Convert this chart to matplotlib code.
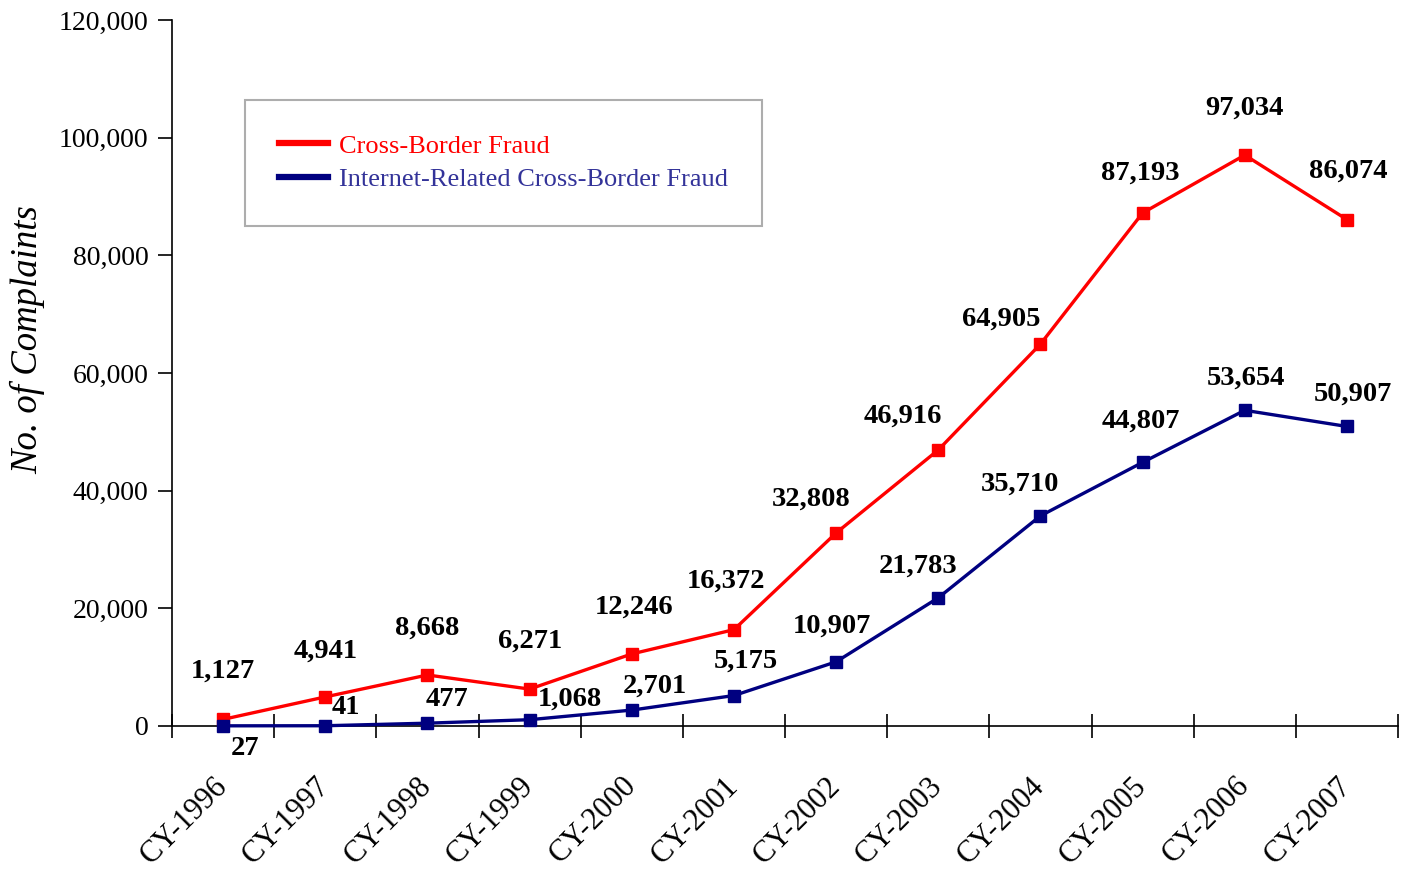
import matplotlib
matplotlib.use("Agg")
import matplotlib.pyplot as plt
from matplotlib.lines import Line2D
from matplotlib.ticker import FuncFormatter, FixedLocator

plt.rcParams['font.family'] = ['Liberation Serif', 'DejaVu Serif']

years = ["CY-1996", "CY-1997", "CY-1998", "CY-1999", "CY-2000", "CY-2001",
         "CY-2002", "CY-2003", "CY-2004", "CY-2005", "CY-2006", "CY-2007"]
cross_border = [1127, 4941, 8668, 6271, 12246, 16372, 32808, 46916, 64905, 87193, 97034, 86074]
internet_related = [27, 41, 477, 1068, 2701, 5175, 10907, 21783, 35710, 44807, 53654, 50907]

# label offsets in pixels (styling only)
red_off = [(0, 48), (0, 46), (0, 47), (0, 48), (2, 47), (-8, 48), (-25, 34),
           (-35, 34), (-39, 25), (-2, 40), (0, 47), (1, 48)]
blue_off = [(22, -23), (21, 18), (20, 24), (40, 21), (23, 24), (12, 34), (-4, 36),
            (-20, 32), (-20, 32), (-2, 41), (1, 32), (6, 32)]

RED = '#ff0000'
NAVY = '#000080'

fig = plt.figure(figsize=(14.08, 8.71), dpi=100)
ax = fig.add_axes([0.1222, 0.1665, 0.8707, 0.8106])

x = list(range(len(years)))
ax.plot(x, cross_border, color=RED, lw=2.4, marker='s', ms=8, clip_on=False, zorder=3)
ax.plot(x, internet_related, color=NAVY, lw=2.4, marker='s', ms=8, clip_on=False, zorder=3)

for i, v in enumerate(cross_border):
    ax.annotate(f"{v:,}", (i, v), xytext=red_off[i], textcoords='offset pixels',
                ha='center', va='center', fontsize=20.5, fontweight='bold', color='black')
for i, v in enumerate(internet_related):
    ax.annotate(f"{v:,}", (i, v), xytext=blue_off[i], textcoords='offset pixels',
                ha='center', va='center', fontsize=20.5, fontweight='bold', color='black')

ax.set_xlim(-0.5, len(years) - 0.5)
ax.set_ylim(0, 120000)
ax.set_yticks(range(0, 120001, 20000))
ax.yaxis.set_major_formatter(FuncFormatter(lambda v, p: f"{int(v):,}"))
ax.tick_params(axis='y', direction='out', length=10, width=1.2, pad=7, labelsize=20)

ax.set_xticks(x)
ax.set_xticklabels(years, rotation=45, ha='right', va='center', rotation_mode='anchor')
ax.tick_params(axis='x', which='major', length=0, pad=40, labelsize=22)
ax.xaxis.set_minor_locator(FixedLocator([i - 0.5 for i in range(len(years) + 1)]))
ax.tick_params(axis='x', which='minor', direction='inout', length=17, width=1.2)

for s in ['top', 'right']:
    ax.spines[s].set_visible(False)
for s in ['left', 'bottom']:
    ax.spines[s].set_linewidth(1.2)

ax.set_ylabel("No. of Complaints", fontsize=26.5, fontstyle='italic')
ax.yaxis.set_label_coords(-0.1036, 0.547)

handles = [Line2D([], [], color=RED, lw=4.5), Line2D([], [], color=NAVY, lw=4.5)]
leg = ax.legend(handles, ["Cross-Border Fraud", "Internet-Related Cross-Border Fraud"],
                loc='upper left', bbox_to_anchor=(0.0595, 0.8867), fontsize=19,
                frameon=True, fancybox=False, borderpad=1.3, labelspacing=0.38,
                handlelength=1.85, handletextpad=0.4, borderaxespad=0)
leg.get_frame().set_edgecolor('#999999')
leg.get_frame().set_linewidth(1.5)
texts = leg.get_texts()
texts[0].set_color(RED)
texts[1].set_color('#333399')

fig.savefig("out.png", dpi=100)
